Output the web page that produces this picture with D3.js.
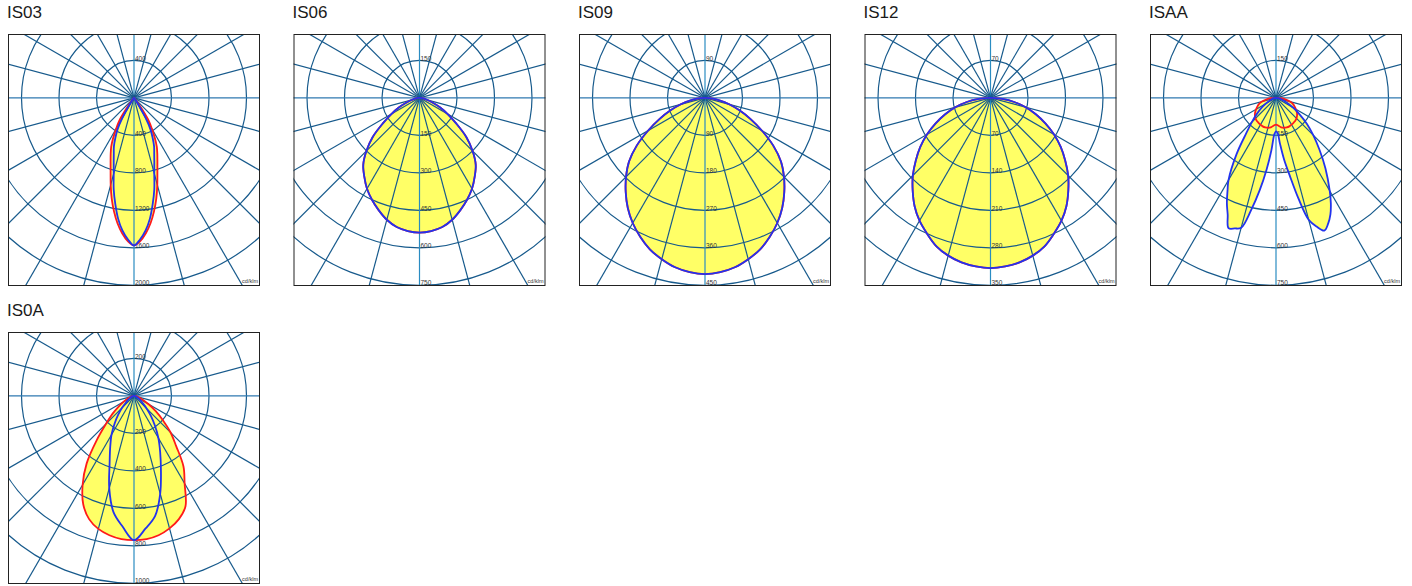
<!DOCTYPE html>
<html><head><meta charset="utf-8">
<script src="https://cdn.jsdelivr.net/npm/d3@7"></script>
<style>body{margin:0;background:#fff}svg{display:block}</style>
</head><body>
<svg id="c" width="1412" height="586"></svg>
<script>
// ---------- data ----------
const panelNames = ["IS03","IS06","IS09","IS12","ISAA","IS0A"];
const ringSteps  = [400, 150, 90, 70, 150, 200];
const ringCount  = 5;

// gamma grids (degrees from nadir)
const gammaStd = [0,5,10,15,20,25,30,35,40,45,50,55,60,65,70,75,80,85,90];
const gamma03  = [0,2.5,5,7.5,10,12.5,15,17.5,20,22.5,25,27.5,30,32.5,35,37.5,40,50,90];
const gammaAA  = [0,2.5,5,7.5,10,12.5,15,17.5,20,22.5,25,27.5,30,35,40,45,50,55,60,70,80,90];

// IS03 (cd/klm)
const is03Red  = [1575,1530,1450,1350,1230,1100,960,830,730,650,575,480,380,300,150,40,5,0,0];
const is03Blue = [1575,1510,1420,1300,1150,1000,835,720,630,560,470,380,250,100,20,5,0,0,0];
// IS06
const is06All  = [539,535,525,505,478,450,420,385,350,300,245,180,130,90,55,30,15,5,0];
// IS09
const is09All  = [423,420,413,401,387,368,347,323,296,268,238,200,158,120,88,60,35,15,2];
// IS12
const is12All  = [318,316,312,305,295,280,265,247,226,205,182,160,137,113,90,68,45,22,2];
// ISAA
const isAABlueL = [134,145,210,290,375,460,538,548,555,505,465,420,380,275,185,135,100,72,48,20,8,0];
const isAABlueR = [134,140,185,250,315,410,505,540,565,545,515,475,430,345,270,210,160,115,80,32,10,0];
const isAARed   = [107,112,120,124,126,126,124,122,120,116,110,102,92,82,72,58,40,20,5];
// IS0A
const is0ARedL  = [770,767,755,735,700,640,548,440,310,210,150,100,65,42,25,15,8,3,0];
const is0ARedR  = [770,767,755,732,700,650,540,460,350,275,200,140,90,55,35,20,10,3,0];
const is0ABlueL = [770,700,630,510,380,300,240,180,130,90,55,38,25,16,10,6,3,1,0];
const is0ABlueR = [770,710,650,540,420,330,260,195,140,95,60,40,26,16,10,6,3,1,0];

const RED = "#ff1a1a", BLUE = "#2233ee";
const panelCurves = [
  [{c:RED, g:gamma03, l:is03Red, r:is03Red}, {c:BLUE, g:gamma03, l:is03Blue, r:is03Blue}],
  [{c:RED, g:gammaStd, l:is06All, r:is06All}, {c:BLUE, g:gammaStd, l:is06All, r:is06All}],
  [{c:RED, g:gammaStd, l:is09All, r:is09All}, {c:BLUE, g:gammaStd, l:is09All, r:is09All}],
  [{c:RED, g:gammaStd, l:is12All, r:is12All}, {c:BLUE, g:gammaStd, l:is12All, r:is12All}],
  [{c:RED, g:gammaStd, l:isAARed, r:isAARed}, {c:BLUE, g:gammaAA, l:isAABlueL, r:isAABlueR}],
  [{c:RED, g:gammaStd, l:is0ARedL, r:is0ARedR}, {c:BLUE, g:gammaStd, l:is0ABlueL, r:is0ABlueR}]
];

// ---------- drawing ----------
const svg = d3.select("#c");
const BOX = 252, RING = 37.5, CYOFF = 63.8;
const GRID = "#175a8c", AXISV = "#2a8cc2", AXISH = "#2f78b0";
const rad = Math.PI / 180;

function curvePoints(cv) {
  const pts = [];
  for (let k = cv.g.length - 1; k > 0; k--) pts.push([Math.PI + cv.g[k] * rad, cv.l[k]]);
  for (let k = 0; k < cv.g.length; k++) pts.push([Math.PI - cv.g[k] * rad, cv.r[k]]);
  return pts;
}

panelNames.forEach((name, i) => {
  const col = i % 5, row = Math.floor(i / 5);
  const x0 = 8 + col * 285.5, y0 = 34 + row * 298;
  const cx = x0 + BOX / 2, cy = y0 + CYOFF;
  const step = ringSteps[i];
  const rScale = d3.scaleLinear().domain([0, step * ringCount]).range([0, RING * ringCount]);

  svg.append("text").attr("x", x0 - 1).attr("y", y0 - 16.5)
    .attr("font-family", "Liberation Sans, Arial, sans-serif").attr("font-size", 17)
    .attr("fill", "#1a1a1a").text(name);

  const clipId = "clip" + i;
  svg.append("clipPath").attr("id", clipId).append("rect")
    .attr("x", x0).attr("y", y0).attr("width", BOX).attr("height", BOX);
  const g = svg.append("g").attr("clip-path", `url(#${clipId})`);
  g.append("rect").attr("x", x0).attr("y", y0).attr("width", BOX).attr("height", BOX).attr("fill", "#fff");
  const inner = g.append("g").attr("transform", `translate(${cx},${cy})`);

  const line = d3.lineRadial().angle(d => d[0]).radius(d => rScale(d[1])).curve(d3.curveCatmullRom);
  const curves = panelCurves[i];

  // fills
  curves.forEach(cv => {
    inner.append("path").attr("d", line(curvePoints(cv)) + "Z").attr("fill", "#ffff66").attr("stroke", "none");
  });

  // rings
  const ringVals = d3.range(1, ringCount + 1).map(k => k * step);
  inner.selectAll("circle.ring").data(ringVals).enter().append("circle")
    .attr("r", d => rScale(d)).attr("fill", "none").attr("stroke", GRID).attr("stroke-width", 1.2);

  // radial lines every 15 degrees
  const angles = d3.range(0, 360, 15);
  inner.selectAll("line.rad").data(angles).enter().append("line")
    .attr("x1", 0).attr("y1", 0)
    .attr("x2", d => 400 * Math.sin(d * rad)).attr("y2", d => -400 * Math.cos(d * rad))
    .attr("stroke", d => d % 180 === 0 ? AXISV : (d % 90 === 0 ? AXISH : GRID))
    .attr("stroke-width", 1.2);

  // ring labels (below and above center), only those inside the frame
  ringVals.forEach(v => {
    [1, -1].forEach(s => {
      const ly = s * rScale(v) + 0.5;
      if (cy + ly - 5 < y0 || cy + ly > y0 + BOX + 1) return;
      inner.append("text").attr("x", 1).attr("y", Math.min(ly, y0 + BOX - cy - 0.5))
        .attr("font-family", "Liberation Sans, Arial, sans-serif").attr("font-size", 6.5)
        .attr("fill", "#333").text(v);
    });
  });

  // curve outlines
  curves.forEach(cv => {
    inner.append("path").attr("d", line(curvePoints(cv)) + "Z")
      .attr("fill", "none").attr("stroke", cv.c).attr("stroke-width", 1.8).attr("stroke-linejoin", "round");
  });

  g.append("text").attr("x", x0 + BOX - 2).attr("y", y0 + BOX - 3).attr("text-anchor", "end")
    .attr("font-family", "Liberation Sans, Arial, sans-serif").attr("font-size", 5.5)
    .attr("fill", "#333").text("cd/klm");

  svg.append("rect").attr("x", x0 + 0.5).attr("y", y0 + 0.5).attr("width", BOX - 1).attr("height", BOX - 1)
    .attr("fill", "none").attr("stroke", "#222").attr("stroke-width", 1);
});
</script>
</body></html>
